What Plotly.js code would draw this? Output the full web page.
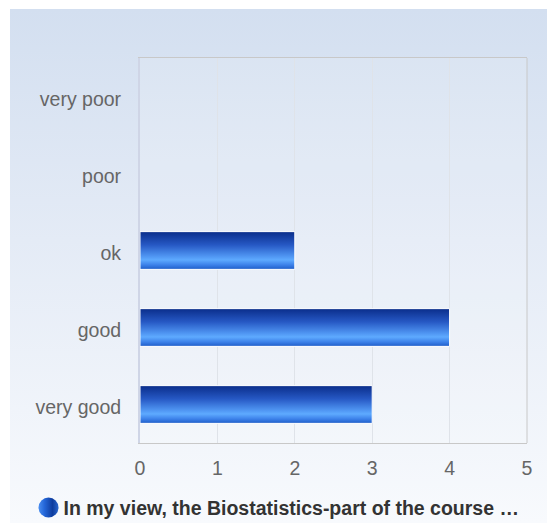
<!DOCTYPE html>
<html>
<head>
<meta charset="utf-8">
<script src="https://cdn.plot.ly/plotly-3.0.1.min.js"></script>
<style>
  html, body { margin: 0; padding: 0; background: #ffffff; }
  #bg { position: absolute; left: 10px; top: 9px; width: 537px; height: 514px;
        background: linear-gradient(to bottom, #d3dff0 0%, #e4ebf6 45%, #f8fafd 100%); }
  #chart { position: absolute; left: 0; top: 0; width: 547px; height: 523px; }
</style>
</head>
<body>
<div id="bg"></div>
<svg width="0" height="0" style="position:absolute">
  <defs>
    <linearGradient id="barGrad" x1="0" y1="0" x2="0" y2="1">
      <stop offset="0%" stop-color="#0a2d8a"/>
      <stop offset="35%" stop-color="#2658c4"/>
      <stop offset="65%" stop-color="#4f95f2"/>
      <stop offset="75%" stop-color="#5eaaff"/>
      <stop offset="88%" stop-color="#3d82ea"/>
      <stop offset="100%" stop-color="#1d5cc8"/>
    </linearGradient>
    <linearGradient id="dotGrad" x1="0" y1="0" x2="1" y2="0">
      <stop offset="0%" stop-color="#4a8ef0"/>
      <stop offset="30%" stop-color="#2466d8"/>
      <stop offset="70%" stop-color="#0e3c9e"/>
      <stop offset="100%" stop-color="#2a66cc"/>
    </linearGradient>
  </defs>
</svg>
<div id="chart"></div>
<script>
const categories = ['very poor', 'poor', 'ok', 'good', 'very good'];
const counts = [0, 0, 2, 4, 3];
const xTicks = [0, 1, 2, 3, 4, 5];
const seriesName = 'In my view, the Biostatistics-part of the course …';

const outline = counts.map(v => v > 0 ? '#ffffff' : 'rgba(0,0,0,0)');

const data = [
  {
    type: 'bar',
    orientation: 'h',
    y: categories,
    x: counts,
    width: 0.49,
    marker: { color: '#2f6fdc', line: { color: outline, width: 1 } },
    showlegend: false,
    hoverinfo: 'x+y'
  },
  {
    type: 'scatter',
    mode: 'markers',
    x: [null],
    y: [null],
    name: seriesName,
    marker: { size: 16, color: '#1f5fd2', symbol: 'circle', line: { width: 0 } },
    showlegend: true
  }
];

const layout = {
  width: 547,
  height: 523,
  margin: { l: 140, r: 20, t: 58, b: 80 },
  paper_bgcolor: 'rgba(0,0,0,0)',
  plot_bgcolor: 'rgba(255,255,255,0.12)',
  font: { family: 'Liberation Sans, Arial, sans-serif', size: 19.5, color: '#666666' },
  xaxis: {
    range: [0, 5],
    tickvals: xTicks,
    ticktext: xTicks.map(String),
    showgrid: true,
    gridcolor: '#dfe3e9',
    gridwidth: 1,
    zeroline: false,
    showline: true,
    mirror: true,
    linecolor: '#c8c8c8',
    linewidth: 1,
    ticks: 'outside',
    ticklen: 8,
    tickcolor: 'rgba(0,0,0,0)',
    tickfont: { size: 19.5, color: '#666666' },
    fixedrange: true
  },
  yaxis: {
    type: 'category',
    categoryorder: 'array',
    categoryarray: categories,
    autorange: 'reversed',
    showgrid: false,
    zeroline: false,
    showline: true,
    linecolor: '#cfd5e6',
    linewidth: 2,
    ticks: 'outside',
    ticklen: 13,
    tickcolor: 'rgba(0,0,0,0)',
    tickfont: { size: 19.5, color: '#666666' },
    ticklabelshift: -3,
    fixedrange: true
  },
  shapes: [
    { type: 'line', xref: 'paper', yref: 'paper', x0: 1, x1: 1, y0: 0, y1: 1,
      line: { color: '#c8c8c8', width: 1 } }
  ],
  showlegend: true,
  legend: {
    orientation: 'h',
    xref: 'container',
    yref: 'container',
    x: 0.043,
    xanchor: 'left',
    y: 0.029,
    yanchor: 'middle',
    bgcolor: 'rgba(0,0,0,0)',
    font: { family: 'Liberation Sans, Arial, sans-serif', size: 19.5, color: '#333333', weight: 'bold' },
    itemsizing: 'trace'
  }
};

Plotly.newPlot('chart', data, layout, { displayModeBar: false, staticPlot: true }).then(function (gd) {
  gd.querySelectorAll('.trace.bars .point path').forEach(function (p) {
    p.style.fill = 'url(#barGrad)';
  });
  gd.querySelectorAll('.legend .scatterpts path, .legend .legendpoints path').forEach(function (p) {
    p.style.fill = 'url(#dotGrad)';
    var t = p.getAttribute('transform') || '';
    p.setAttribute('transform', t + ' translate(5,0) scale(1.25)');
  });
});
</script>
</body>
</html>
